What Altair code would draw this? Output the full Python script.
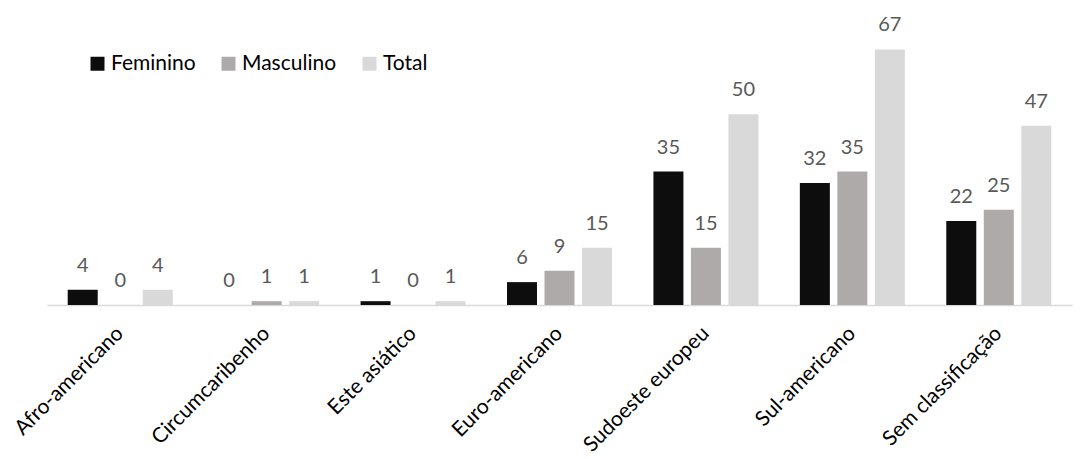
import altair as alt
import pandas as pd

categories = ["Afro-americano", "Circumcaribenho", "Este asiático", "Euro-americano",
              "Sudoeste europeu", "Sul-americano", "Sem classificação"]
series = ["Feminino", "Masculino", "Total"]
feminino = [4, 0, 1, 6, 35, 32, 22]
masculino = [0, 1, 0, 9, 15, 35, 25]
total = [4, 1, 1, 15, 50, 67, 47]
colors = ["#0d0d0d", "#aeaaaa", "#d9d9d9"]

rows = []
for s, vals in zip(series, [feminino, masculino, total]):
    for c, v in zip(categories, vals):
        rows.append({"categoria": c, "grupo": s, "valor": v})
df = pd.DataFrame(rows)

FONT = "Lato"

x = alt.X("categoria:N", sort=categories, title=None,
          scale=alt.Scale(paddingInner=0, paddingOuter=0),
          axis=alt.Axis(labelAngle=-45, labelFontSize=21, labelColor="#000000",
                        labelFont=FONT, ticks=False, domainColor="#d9d9d9",
                        domainWidth=1.5, labelPadding=25, labelAlign="right",
                        labelBaseline="middle"))
xo = alt.XOffset("grupo:N", sort=series,
                 scale=alt.Scale(paddingInner=0.2, paddingOuter=0.552))
y = alt.Y("valor:Q", scale=alt.Scale(domain=[0, 70], nice=False), axis=None)

bars = alt.Chart(df).mark_bar().encode(
    x=x, xOffset=xo, y=y,
    color=alt.Color("grupo:N", sort=series,
                    scale=alt.Scale(domain=series, range=colors),
                    legend=alt.Legend(title=None, orient="none", legendX=40, legendY=15,
                                      direction="horizontal", symbolType="square",
                                      symbolSize=196, symbolStrokeWidth=0,
                                      labelFontSize=21, labelFont=FONT, labelColor="#000000",
                                      columnPadding=22, labelOffset=3)),
)

labels = alt.Chart(df).mark_text(dy=-18, baseline="alphabetic", fontSize=20,
                                 font=FONT, color="#595959").encode(
    x=x, xOffset=xo, y=y, text="valor:Q"
)

chart = alt.layer(bars, labels).properties(
    width=1025, height=267,
    autosize=alt.AutoSizeParams(type="none"),
    padding={"left": 47, "top": 38, "right": 9, "bottom": 154},
).configure_view(stroke=None)

chart.save("out.html", embed_options={"renderer": "svg", "actions": False})
